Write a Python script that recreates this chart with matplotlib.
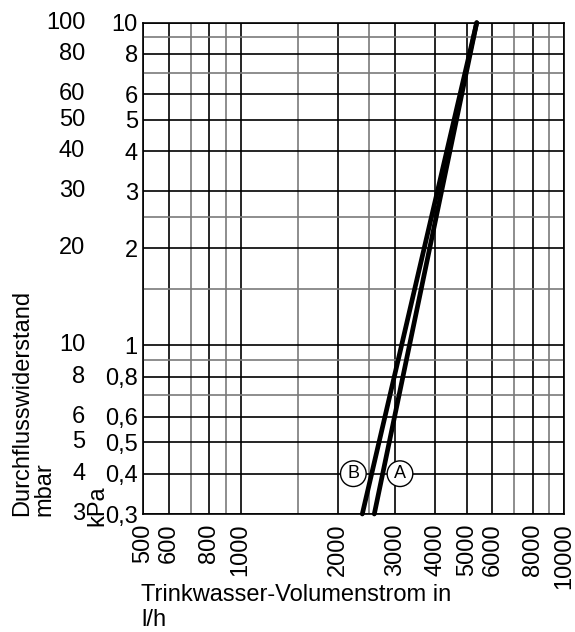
"""
Druckverlust-Diagramm Trinkwasser
Durchflusswiderstand über Volumenstrom (log-log)
"""

import matplotlib
matplotlib.use('Agg')  # Non-interactive backend
import matplotlib.pyplot as plt
from matplotlib.ticker import FixedLocator, NullFormatter, FixedFormatter
from matplotlib.transforms import blended_transform_factory

plt.rcParams['font.family'] = ['Liberation Sans', 'DejaVu Sans']

# Daten
flow_a = [2590, 5370]      # l/h
dp_a = [0.3, 10]           # kPa
flow_b = [2378, 5370]
dp_b = [0.3, 10]

x_major = [500, 600, 800, 1000, 2000, 3000, 4000, 5000, 6000, 8000, 10000]
x_minor = [700, 900, 1500, 2500, 7000, 9000]
y_major = [0.3, 0.4, 0.5, 0.6, 0.8, 1, 2, 3, 4, 5, 6, 8, 10]
y_minor = [0.7, 0.9, 1.5, 2.5, 7, 9]
kpa_labels = ['0,3', '0,4', '0,5', '0,6', '0,8', '1', '2', '3', '4', '5', '6', '8', '10']
mbar_labels = ['3', '4', '5', '6', '8', '10', '20', '30', '40', '50', '60', '80', '100']

# Kennzeichnung der Kurven (Datenkoordinaten)
mark_a = (3110, 0.4)
mark_b = (2231, 0.4)

FS = 17

fig = plt.figure(figsize=(5.75, 6.32), dpi=100)
ax = fig.add_axes([0.2492, 0.1867, 0.7317, 0.7774])

ax.set_xscale('log')
ax.set_yscale('log')
ax.set_xlim(500, 10000)
ax.set_ylim(0.3, 10)

ax.xaxis.set_major_locator(FixedLocator(x_major))
ax.xaxis.set_major_formatter(FixedFormatter([str(v) for v in x_major]))
ax.xaxis.set_minor_locator(FixedLocator(x_minor))
ax.xaxis.set_minor_formatter(NullFormatter())
ax.yaxis.set_major_locator(FixedLocator(y_major))
ax.yaxis.set_major_formatter(FixedFormatter(kpa_labels))
ax.yaxis.set_minor_locator(FixedLocator(y_minor))
ax.yaxis.set_minor_formatter(NullFormatter())

ax.tick_params(which='both', length=0, labelsize=FS)
ax.tick_params(axis='x', which='major', labelrotation=90, pad=7)
ax.tick_params(axis='y', which='major', pad=4)

# Gitter
ax.grid(True, which='major', color='#000000', linewidth=1.2)
ax.grid(True, which='minor', color='#7a7a7a', linewidth=1.2)
ax.set_axisbelow(True)
for sp in ax.spines.values():
    sp.set_color('black')
    sp.set_linewidth(1.2)

# mbar-Skala links
trans = blended_transform_factory(ax.transAxes, ax.transData)
for val, lab in zip(y_major, mbar_labels):
    ax.text(-0.138, val, lab, transform=trans, ha='right', va='center',
            fontsize=FS, clip_on=False)

# Kennlinien
ax.plot(flow_a, dp_a, color='black', linewidth=3.4, solid_capstyle='round',
        clip_on=False, zorder=4)
ax.plot(flow_b, dp_b, color='black', linewidth=3.4, solid_capstyle='round',
        clip_on=False, zorder=4)

for (x, y), letter in [(mark_a, 'A'), (mark_b, 'B')]:
    ax.text(x, y, letter, ha='center', va='center', fontsize=13, zorder=5,
            bbox=dict(boxstyle='circle,pad=0.24', fc='white', ec='black', lw=1.0))

# Achsenbeschriftungen
fig.text(141 / 575, 1 - 584 / 632, 'Trinkwasser-Volumenstrom in\nl/h',
         ha='left', va='top', fontsize=FS, linespacing=1.2)
fig.text(11 / 575, 1 - 516 / 632, 'Durchflusswiderstand\nmbar',
         rotation=90, ha='left', va='bottom', multialignment='left',
         fontsize=FS, linespacing=1.0)
fig.text(97 / 575, 1 - 526 / 632, 'kPa', rotation=90, ha='center', va='bottom',
         fontsize=FS)

fig.savefig('out.png', dpi=100)
